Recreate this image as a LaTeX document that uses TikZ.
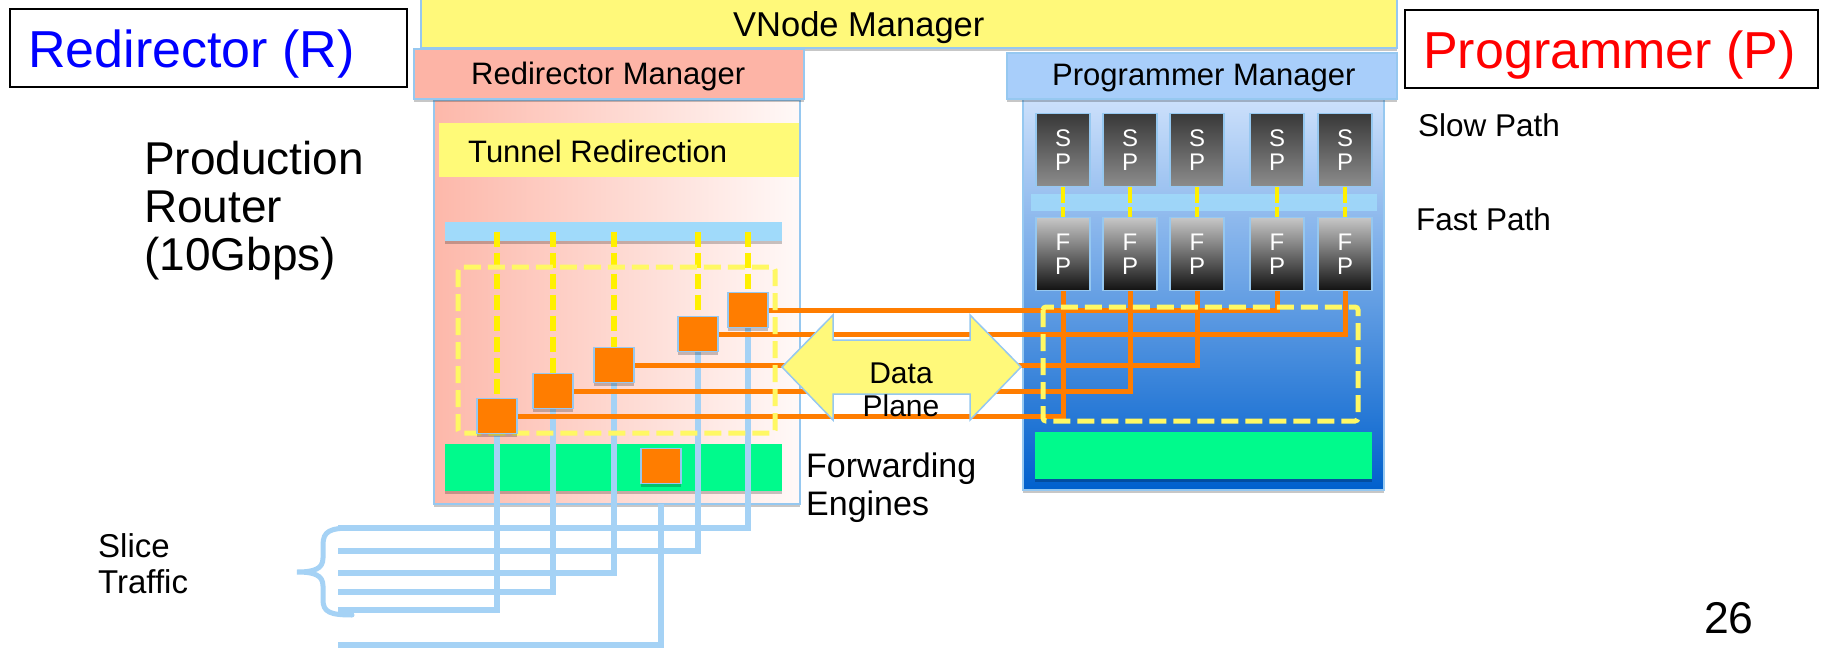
\documentclass[tikz,border=0pt]{standalone}
\usepackage{fontspec}
\setmainfont{Liberation Sans}
\usetikzlibrary{shadows}
\pgfdeclarelayer{back}
\pgfdeclarelayer{links}
\pgfsetlayers{back,links,main}

\definecolor{vyellow}{RGB}{255,249,122}
\definecolor{tunyel}{RGB}{255,250,120}
\definecolor{salmon}{RGB}{253,180,166}
\definecolor{rbodyA}{RGB}{253,184,170}
\definecolor{rbodyB}{RGB}{255,249,248}
\definecolor{pmblue}{RGB}{168,206,250}
\definecolor{pbodyA}{RGB}{204,224,251}
\definecolor{pbodyB}{RGB}{0,96,205}
\definecolor{edgeblue}{RGB}{150,200,240}
\definecolor{linkblue}{RGB}{165,210,245}
\definecolor{busblue}{RGB}{160,218,250}
\definecolor{fegreen}{RGB}{0,250,140}
\definecolor{orng}{RGB}{255,125,0}
\definecolor{dashyel}{RGB}{255,248,100}
\definecolor{puryel}{RGB}{255,240,0}

\begin{document}
\begin{tikzpicture}[x=1pt,y=-1pt,
  fs/.style={font=\fontsize{#1}{#1}\selectfont},
  txt/.style={inner sep=0pt, anchor=base west},
  sz/.style 2 args={minimum width=#1pt, minimum height=#2pt},
  shad/.style={drop shadow={shadow xshift=0pt,shadow yshift=-3pt,opacity=0.22,fill=black}},
  panel/.style={draw=edgeblue, line width=1.5pt, inner sep=0pt, outer sep=0pt, anchor=north west},
  flat/.style={inner sep=0pt, outer sep=0pt, anchor=north west},
  sq/.style={draw=edgeblue, line width=1.5pt, fill=orng, sz={40}{35}, inner sep=0pt, shad},
  pathbox/.style={draw=edgeblue, line width=1.5pt, sz={54}{73}, inner sep=0pt, text=white, align=center, font=\fontsize{24}{24}\selectfont},
  spbox/.style={pathbox, top color=black!78, bottom color=black!45},
  fpbox/.style={pathbox, top color=black!22, bottom color=black!93},
  ylink/.style={puryel, line width=6pt, dash pattern=on 15pt off 6pt},
  pylink/.style={puryel, line width=4.5pt, dash pattern=on 16pt off 4pt},
  yframe/.style={dashyel, line width=5pt, dash pattern=on 17pt off 7pt, rounded corners=3pt},
  olink/.style={orng, line width=5pt},
  blink/.style={linkblue, line width=5.5pt},
  labelbox/.style={draw=black, line width=1.5pt}
]
\useasboundingbox (0,0) rectangle (1831,650);

% ---------- panels ----------
\begin{pgfonlayer}{back}
  \fill[white] (0,0) rectangle (1831,650);
  \node[panel, shad, fill=vyellow, sz={976}{51}] (vnode) at (421,-3) {};
  % redirector side
  \node[panel, shad, left color=rbodyA, right color=rbodyB, sz={366}{404}] (rbody) at (434,100) {};
  \node[panel, shad, fill=salmon, sz={390}{50}] (rmgr) at (414,49) {};
  \node[flat, fill=tunyel, sz={360}{54}] (tunnel) at (439,123) {};
  \node[flat, shad, fill=busblue, sz={337}{19}] (rbus) at (445,222) {};
  \node[flat, shad, fill=fegreen, sz={337}{47}] (rgreen) at (445,444) {};
  % programmer side
  \node[panel, shad, top color=pbodyA, bottom color=pbodyB, sz={361}{391}] (pbody) at (1023,99) {};
  \node[panel, shad, fill=pmblue, sz={390}{46}] (pmgr) at (1007,53) {};
  \node[flat, fill=busblue, opacity=0.85, sz={346}{17}] (pbus) at (1031,194) {};
  \node[flat, shad, fill=fegreen, sz={337}{47}] (pgreen) at (1035,432) {};
\end{pgfonlayer}

% ---------- title boxes ----------
\node[labelbox, flat, sz={397}{78}] (rbox) at (10,9) {};
\node[labelbox, flat, sz={413}{78}] (pbox) at (1405,10) {};

% ---------- dashed frames ----------
\draw[yframe] (458,267) rectangle (775,433);
\draw[yframe] (1043,307) rectangle (1358,421);

% ---------- redirector forwarding squares ----------
\node[sq] (s1) at (497,416) {};
\node[sq] (s2) at (553,391) {};
\node[sq] (s3) at (614,365) {};
\node[sq] (s4) at (698,334) {};
\node[sq] (s5) at (748,310) {};
\node[sq] (s6) at (661,466) {};

% ---------- slow path / fast path boxes ----------
\node[spbox] (p1) at (1063,150) {S\\P};
\node[spbox] (p2) at (1130,150) {S\\P};
\node[spbox] (p3) at (1197,150) {S\\P};
\node[spbox] (p4) at (1277,150) {S\\P};
\node[spbox] (p5) at (1345,150) {S\\P};
\node[fpbox] (f1) at (1063,254) {F\\P};
\node[fpbox] (f2) at (1130,254) {F\\P};
\node[fpbox] (f3) at (1197,254) {F\\P};
\node[fpbox] (f4) at (1277,254) {F\\P};
\node[fpbox] (f5) at (1345,254) {F\\P};

% ---------- slice traffic ends ----------
\coordinate (t5) at (338,528);
\coordinate (t4) at (338,551);
\coordinate (t3) at (338,573);
\coordinate (t2) at (338,592);
\coordinate (t1) at (338,610);
\coordinate (t6) at (338,645);

% ---------- connectors ----------
\begin{pgfonlayer}{links}
  % slice traffic into the router
  \draw[blink] (s1.south) |- (t1);
  \draw[blink] (s2.south) |- (t2);
  \draw[blink] (s3.south) |- (t3);
  \draw[blink] (s4.south) |- (t4);
  \draw[blink] (s5.south) |- (t5);
  \draw[blink] (s6 |- rbody.south) |- (t6);
  % brace gathering the slices
  \draw[linkblue, line width=5pt, line cap=round]
    (352,528) .. controls (330,528) and (323,531) .. (323,545) -- (323,558)
    .. controls (323,569) and (314,572) .. (297,572)
    .. controls (314,572) and (323,575) .. (323,586) -- (323,600)
    .. controls (323,612) and (330,615) .. (352,615);
  % tunnels to the fast paths
  \draw[olink] (s5.east) -| (f4.south);
  \draw[olink] (s4.east) -| (f5.south);
  \draw[olink] (s3.east) -| (f3.south);
  \draw[olink] (s2.east) -| (f2.south);
  \draw[olink] (s1.east) -| (f1.south);
  % redirection bus taps
  \foreach \s in {s1,s2,s3,s4,s5}
    \draw[ylink] (\s.north |- rbus.center) -- (\s.north);
  % slow path to fast path
  \foreach \i in {1,...,5}
    \draw[pylink] (p\i.south) -- (f\i.north);
\end{pgfonlayer}

% ---------- data plane arrow ----------
\draw[draw=edgeblue, line width=1.5pt, fill=vyellow]
  (782,367) -- (833,315) -- (833,340) -- (970,340) -- (970,315) -- (1021,367)
  -- (970,420) -- (970,394) -- (833,394) -- (833,420) -- cycle;
\node[inner sep=0pt, anchor=base, fs=30] (dp1) at (901,383) {Data};
\node[inner sep=0pt, anchor=base, fs=30] (dp2) at (901,416) {Plane};

% ---------- texts ----------
\node[txt, fs=52, text=blue] (rtitle) at (28,68) {Redirector (R)};
\node[txt, fs=52, text=red] (ptitle) at (1423,69) {Programmer (P)};
\node[txt, fs=34.5] (vtext) at (733,37) {VNode Manager};
\node[txt, fs=31] (rmtext) at (471,85) {Redirector Manager};
\node[txt, fs=31] (pmtext) at (1052,86) {Programmer Manager};
\node[txt, fs=31] (tuntext) at (468,162) {Tunnel Redirection};
\node[txt, fs=46] (prod1) at (144,174) {Production};
\node[txt, fs=46] (prod2) at (144,222) {Router};
\node[txt, fs=46] (prod3) at (144,270) {(10Gbps)};
\node[txt, fs=34] (fe1) at (806,477) {Forwarding};
\node[txt, fs=34] (fe2) at (806,515) {Engines};
\node[txt, fs=31.5] (slow) at (1418,136) {Slow Path};
\node[txt, fs=31.5] (fast) at (1416,230) {Fast Path};
\node[txt, fs=33] (st1) at (98,557) {Slice};
\node[txt, fs=33] (st2) at (98,593) {Traffic};
\node[txt, fs=44.5] (pagenum) at (1704,633) {26};
\end{tikzpicture}
\end{document}
